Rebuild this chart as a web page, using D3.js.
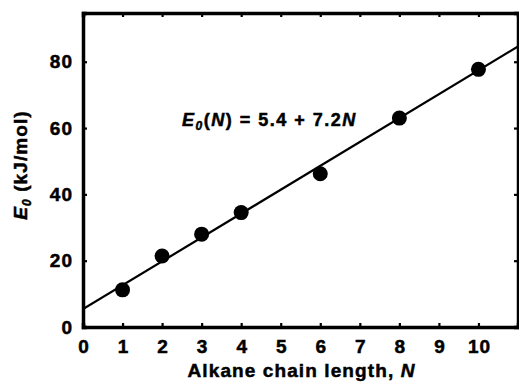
<!DOCTYPE html>
<html><head><meta charset="utf-8">
<script src="https://cdn.jsdelivr.net/npm/d3@7"></script>
<style>body{margin:0;background:#fff}svg{display:block}text{font-family:"Liberation Sans",Arial,sans-serif;font-weight:bold;stroke:#000;stroke-width:0.5px}</style>
</head><body>
<script>
const chainLength = [1, 2, 3, 4, 6, 8, 10];
const energy = [11.2, 21.4, 28.0, 34.5, 46.2, 63.0, 77.7];
const fitIntercept = 5.4, fitSlope = 7.2;
const xTicks = [0,1,2,3,4,5,6,7,8,9,10];
const yTicks = [0,20,40,60,80];

(function(){
const W=519,H=385;
const m={l:83,r:1,t:13,b:58};
const FS=19;
const svg=d3.select("body").append("svg").attr("width",W).attr("height",H);
const x=d3.scaleLinear().domain([0,11]).range([m.l,W-m.r]);
const y=d3.scaleLinear().domain([0,94.7]).range([H-m.b,m.t]);

svg.append("clipPath").attr("id","clip").append("rect")
 .attr("x",m.l).attr("y",m.t).attr("width",W-m.r-m.l).attr("height",H-m.b-m.t);

// fit line
svg.append("line").attr("clip-path","url(#clip)")
 .attr("x1",x(0)).attr("y1",y(fitIntercept))
 .attr("x2",x(11)).attr("y2",y(fitIntercept+fitSlope*11))
 .attr("stroke","#000").attr("stroke-width",2.2);

// axes
const gBottom=svg.append("g").attr("transform",`translate(0,${y(0)})`)
 .call(d3.axisBottom(x).tickValues(xTicks).tickSize(-4).tickPadding(12.5).tickFormat(d3.format("d")));
const gTop=svg.append("g").attr("transform",`translate(0,${y(94.7)})`)
 .call(d3.axisTop(x).tickValues(xTicks.filter(d=>d>0)).tickSize(-4).tickFormat(""));
const gLeft=svg.append("g").attr("transform",`translate(${x(0)},0)`)
 .call(d3.axisLeft(y).tickValues(yTicks).tickSize(-4).tickPadding(10));
const gRight=svg.append("g").attr("transform",`translate(${x(11)},0)`)
 .call(d3.axisRight(y).tickValues(yTicks.filter(d=>d>0)).tickSize(-4).tickFormat(""));
[gBottom,gTop,gLeft,gRight].forEach(g=>{
  g.select(".domain").attr("stroke","#000").attr("stroke-width",3.5);
  g.selectAll(".tick line").attr("stroke","#000").attr("stroke-width",2.2);
  g.selectAll(".tick text").attr("fill","#000").attr("font-size",FS).attr("letter-spacing",1);
});
gBottom.selectAll(".tick text").attr("dx",0.5);

// points
svg.append("g").selectAll("circle").data(chainLength).join("circle")
 .attr("cx",d=>x(d)).attr("cy",(d,i)=>y(energy[i])).attr("r",7.5).attr("fill","#000");

// equation
const eq=svg.append("text").attr("x",182).attr("y",126).attr("font-size",18).attr("letter-spacing",1.5).attr("fill","#000");
eq.append("tspan").attr("font-style","italic").text("E");
eq.append("tspan").attr("font-style","italic").attr("font-size",12).attr("dy",4).text("0");
eq.append("tspan").attr("dy",-4).text("(");
eq.append("tspan").attr("font-style","italic").text("N");
eq.append("tspan").text(") = 5.4 + 7.2");
eq.append("tspan").attr("font-style","italic").text("N");

// x label
const xl=svg.append("text").attr("x",301.5).attr("y",377).attr("text-anchor","middle").attr("font-size",FS).attr("letter-spacing",1.1).attr("fill","#000");
xl.append("tspan").text("Alkane chain length, ");
xl.append("tspan").attr("font-style","italic").text("N");

// y label
const yl=svg.append("text").attr("transform",`translate(27,165) rotate(-90)`)
 .attr("text-anchor","middle").attr("font-size",FS).attr("letter-spacing",1.1).attr("fill","#000");
yl.append("tspan").attr("font-style","italic").text("E");
yl.append("tspan").attr("font-style","italic").attr("font-size",12).attr("dy",4).text("0");
yl.append("tspan").attr("dy",-4).text(" (kJ/mol)");
})();
</script>
</body></html>
